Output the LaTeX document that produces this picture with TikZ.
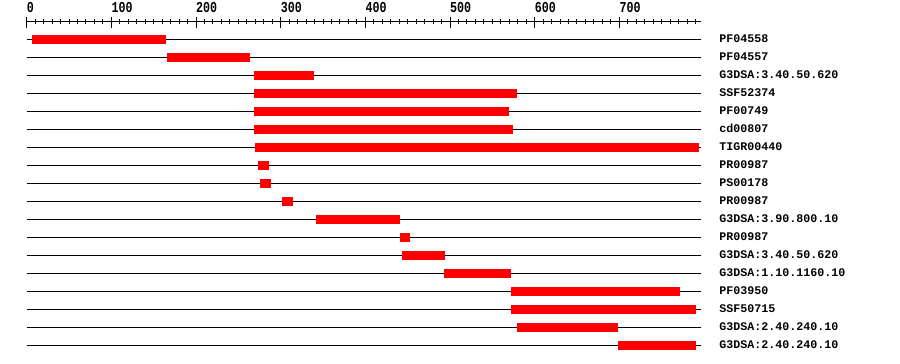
\documentclass[tikz,border=0pt]{standalone}
\usepackage{fontspec}
\setmonofont{Liberation Mono}
\usepackage{tikz}
\tikzset{
asse/.style={line width=1pt},
traccia/.style={line width=1pt},
barra/.style={fill=red,draw=none},
etichetta/.style={anchor=base west,inner sep=0pt,font=\ttfamily\bfseries\fontsize{11.67}{14}\selectfont},
numero/.style={etichetta,yscale=1.3}}

\begin{document}
\begin{tikzpicture}[x=0.8466pt,y=1pt]
\useasboundingbox (-26.7pt,21.7pt) rectangle (873.3pt,-342.3pt);

% scala
\draw[asse] (0,0) -- (796.6,0);
\foreach \t in {0,10,...,790} \draw[asse] (\t,2.2) -- (\t,-2.3);
\foreach \t in {0,100,...,700} {
  \draw[asse] (\t,4.7) -- (\t,-6.3);
  \node[numero] (n\t) at (\t,9.4) {\t};
}

% domini
\foreach \nome/\da/\a [count=\i] in {
  PF04558/6/164,
  PF04557/166/264,
  G3DSA:3.40.50.620/268/339,
  SSF52374/268/579,
  PF00749/268/570,
  cd00807/268/574,
  TIGR00440/270/794,
  PR00987/273/286,
  PS00178/276/289,
  PR00987/302/315,
  G3DSA:3.90.800.10/342/441,
  PR00987/441/453,
  G3DSA:3.40.50.620/443/494,
  G3DSA:1.10.1160.10/493/572,
  PF03950/572/772,
  SSF50715/572/791,
  G3DSA:2.40.240.10/579/698,
  G3DSA:2.40.240.10/698/791} {
  \pgfmathsetmacro{\yy}{-17.6-18*(\i-1)}
  \draw[traccia] (0,\yy) -- (796.6,\yy);
  \fill[barra] (\da,\yy+4.3) rectangle (\a,\yy-4.7);
  \node[etichetta] (d\i) at (818,\yy-3) {\nome};
}

\end{tikzpicture}
\end{document}
